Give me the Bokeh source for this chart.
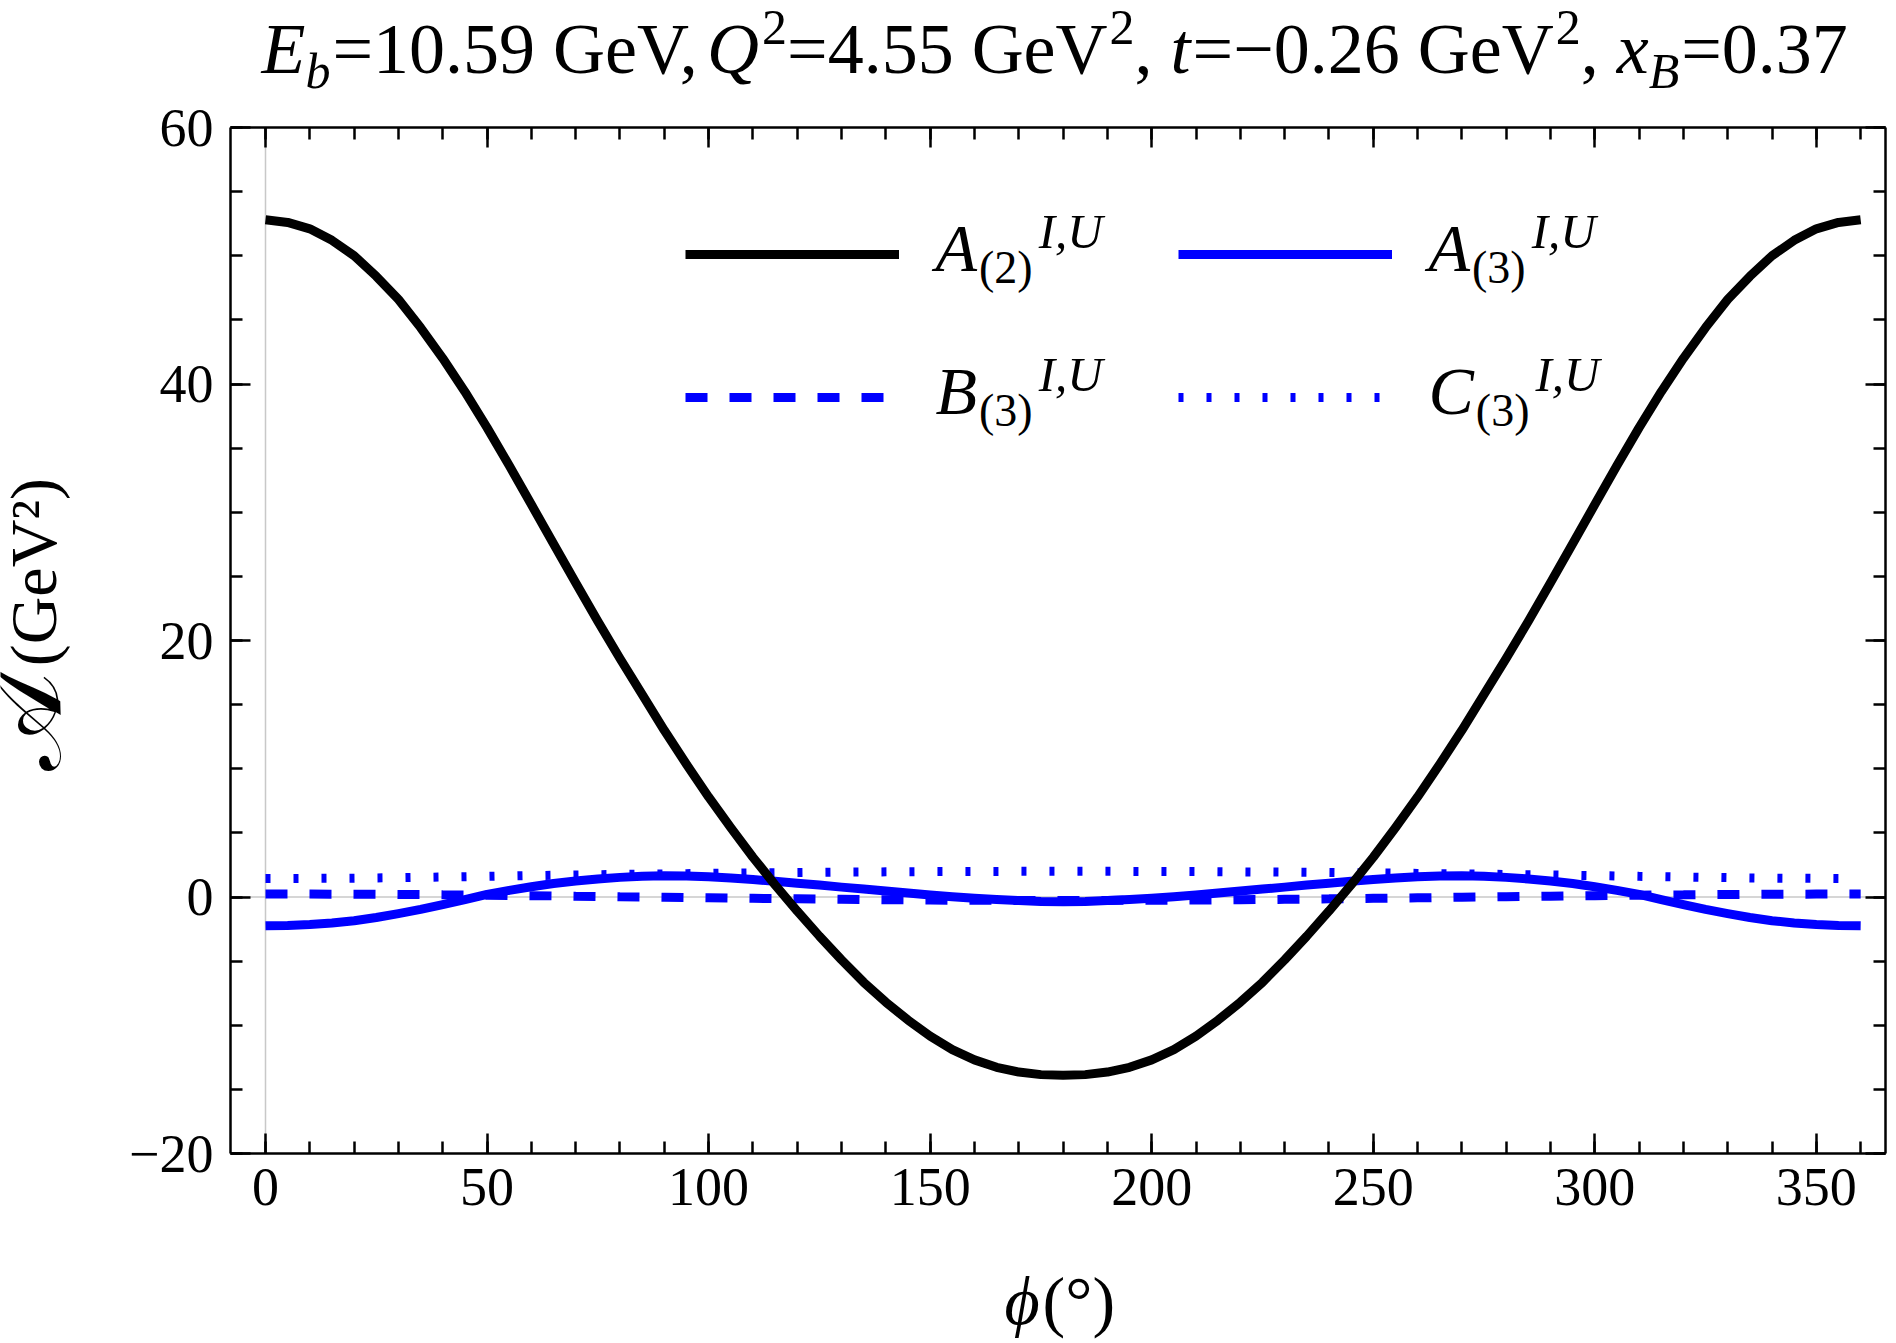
from bokeh.plotting import figure
from bokeh.layouts import column, row
from bokeh.models import (Range1d, LinearAxis, FixedTicker, Span, Label,
                          Legend, LegendItem)
from bokeh.embed import file_html
from bokeh.resources import INLINE
from bokeh.core.properties import value

# ---------------- data ----------------
phi = list(range(0, 361, 5))

A2 = [52.8, 52.6, 52.1, 51.2, 50.0, 48.4, 46.6, 44.4, 42.0, 39.4, 36.6, 33.65, 30.6, 27.55,
      24.5, 21.5, 18.6, 15.8, 13.0, 10.35, 7.8, 5.4, 3.1, 0.95, -1.1, -3.05, -4.9, -6.65, -8.2,
      -9.6, -10.85, -11.9, -12.7, -13.28, -13.65, -13.85, -13.9,
      -13.85, -13.65, -13.28, -12.7, -11.9, -10.85, -9.6, -8.2, -6.65, -4.9, -3.05, -1.1, 0.95,
      3.1, 5.4, 7.8, 10.35, 13.0, 15.8, 18.6, 21.5, 24.5, 27.55, 30.6, 33.65, 36.6, 39.4, 42.0,
      44.4, 46.6, 48.4, 50.0, 51.2, 52.1, 52.6, 52.8]

A3 = [-2.25, -2.22, -2.15, -2.02, -1.85, -1.6, -1.3, -0.97, -0.6, -0.2, 0.2, 0.52, 0.8, 1.05,
      1.25, 1.41, 1.53, 1.61, 1.65, 1.63, 1.57, 1.48, 1.36, 1.23, 1.08, 0.93, 0.77, 0.62, 0.46,
      0.31, 0.16, 0.02, -0.1, -0.2, -0.28, -0.355, -0.38,
      -0.355, -0.28, -0.2, -0.1, 0.02, 0.16, 0.31, 0.46, 0.62, 0.77, 0.93, 1.08, 1.23, 1.36,
      1.48, 1.57, 1.63, 1.65, 1.61, 1.53, 1.41, 1.25, 1.05, 0.8, 0.52, 0.2, -0.2, -0.6, -0.97,
      -1.3, -1.6, -1.85, -2.02, -2.15, -2.22, -2.25]

B3 = [0.23, 0.229, 0.226, 0.221, 0.215, 0.207, 0.197, 0.185, 0.17, 0.157, 0.14, 0.123, 0.105,
      0.086, 0.065, 0.045, 0.023, 0.002, -0.02, -0.042, -0.063, -0.085, -0.105, -0.126, -0.145,
      -0.163, -0.18, -0.197, -0.21, -0.225, -0.237, -0.247, -0.255, -0.261, -0.266, -0.269, -0.27,
      -0.269, -0.266, -0.261, -0.255, -0.247, -0.237, -0.225, -0.21, -0.197, -0.18, -0.163,
      -0.145, -0.126, -0.105, -0.085, -0.063, -0.042, -0.02, 0.002, 0.023, 0.045, 0.065, 0.086,
      0.105, 0.123, 0.14, 0.157, 0.17, 0.185, 0.197, 0.207, 0.215, 0.221, 0.226, 0.229, 0.23]

C3 = [1.44, 1.443, 1.45, 1.46, 1.47, 1.49, 1.51, 1.535, 1.56, 1.585, 1.61, 1.64, 1.67, 1.695,
      1.72, 1.74, 1.76, 1.78, 1.8, 1.82, 1.84, 1.86, 1.88, 1.895, 1.91, 1.925, 1.94, 1.95, 1.96,
      1.97, 1.98, 1.985, 1.99, 1.995, 2.0, 2.0, 2.0,
      2.0, 2.0, 1.995, 1.99, 1.985, 1.98, 1.97, 1.96, 1.95, 1.94, 1.925, 1.91, 1.895, 1.88,
      1.86, 1.84, 1.82, 1.8, 1.78, 1.76, 1.74, 1.72, 1.695, 1.67, 1.64, 1.61, 1.585, 1.56,
      1.535, 1.51, 1.49, 1.47, 1.46, 1.45, 1.443, 1.44]

x_major = [0, 50, 100, 150, 200, 250, 300, 350]
x_labels = ["0", "50", "100", "150", "200", "250", "300", "350"]
x_minor = list(range(0, 361, 10))
y_major = [-20, 0, 20, 40, 60]
y_labels = ["\u221220", "0", "20", "40", "60"]
y_minor = list(range(-20, 61, 5))

# ---------------- layout (page pixels) ----------------
TW, TH = 1888, 1343                 # whole drawing
FL, FR, FT, FB = 230, 1885, 127, 1153
X0_PAGE, PX_PER_DEG = 265.0, 4.431
TOP_H = 100                          # title strip
LEFT_W = 120                         # y-label strip
BOT_Y = 1240                         # start of x-label strip
MAIN_H = BOT_Y - TOP_H
MAIN_W = TW - LEFT_W
SERIF = "Liberation Serif"
BLUE = "#0000ff"
LW = 9
K_BASE = 0.37                        # baseline correction (fraction of font size)

x_start = (FL - X0_PAGE) / PX_PER_DEG
x_end = (FR - X0_PAGE) / PX_PER_DEG


def strip(w, h, y_top, x_left=0):
    f = figure(width=w, height=h, x_range=Range1d(x_left, x_left + w),
               y_range=Range1d(y_top + h, y_top), output_backend="svg",
               toolbar_location=None, x_axis_type=None, y_axis_type=None, min_border=0)
    f.outline_line_color = None
    f.background_fill_color = "white"
    f.border_fill_color = "white"
    return f


title_fig = strip(TW, TOP_H, 0)
ylab_fig = strip(LEFT_W, MAIN_H, TOP_H)
xlab_fig = strip(TW, TH - BOT_Y, BOT_Y)

p = figure(width=MAIN_W, height=MAIN_H, x_range=Range1d(x_start, x_end),
           y_range=Range1d(-20, 60), output_backend="svg", toolbar_location=None)
p.min_border_left = FL - LEFT_W
p.min_border_right = TW - FR
p.min_border_top = FT - TOP_H
p.min_border_bottom = BOT_Y - FB
p.outline_line_color = None
p.grid.visible = False
p.background_fill_color = "white"
p.border_fill_color = "white"

p.add_layout(LinearAxis(), "above")
p.add_layout(LinearAxis(), "right")


def style_axis(ax, ticks, minor, labels, standoff):
    ax.ticker = FixedTicker(ticks=ticks, minor_ticks=minor)
    ax.axis_line_width = 2.5
    ax.axis_line_color = "black"
    ax.major_tick_in = 20
    ax.major_tick_out = 0
    ax.minor_tick_in = 12
    ax.minor_tick_out = 0
    ax.major_tick_line_width = 2.5
    ax.minor_tick_line_width = 2.5
    ax.major_tick_line_color = "black"
    ax.minor_tick_line_color = "black"
    if labels is None:
        ax.major_label_text_font_size = "1px"
        ax.major_label_text_color = None
        ax.major_label_standoff = 0
    else:
        ax.major_label_overrides = {t: s for t, s in zip(ticks, labels)}
        ax.major_label_text_font = SERIF
        ax.major_label_text_font_size = "54px"
        ax.major_label_text_color = "black"
        ax.major_label_standoff = standoff


style_axis(p.below[0], x_major, x_minor, x_labels, 15)
style_axis(p.above[0], x_major, x_minor, None, 0)
style_axis(p.left[0], y_major, y_minor, y_labels, 17)
style_axis(p.right[0], y_major, y_minor, None, 0)

p.add_layout(Span(location=0, dimension="width", line_color="#c8c8c8", line_width=1.5, level="underlay"))
p.add_layout(Span(location=0, dimension="height", line_color="#c8c8c8", line_width=1.5, level="underlay"))

# ---------------- curves ----------------
r_c3 = p.line(phi, C3, line_color=BLUE, line_width=LW, line_dash="5 23")
r_b3 = p.line(phi, B3, line_color=BLUE, line_width=LW, line_dash="22 22")
r_a3 = p.line(phi, A3, line_color=BLUE, line_width=LW, line_join="round")
r_a2 = p.line(phi, A2, line_color="black", line_width=LW, line_join="round")

# ---------------- legend (two columns, labels drawn as rich text) ----------------
def make_legend(items, left_page):
    leg = Legend(items=[LegendItem(label=value(" "), renderers=[r]) for r in items],
                 location=(left_page - FL, 741), orientation="vertical",
                 glyph_width=214, glyph_height=30, label_height=30, label_width=0,
                 label_standoff=0, label_text_font_size="1px", label_text_color=None,
                 padding=0, margin=0, spacing=113, border_line_color=None,
                 background_fill_alpha=0)
    p.add_layout(leg)


make_legend([r_a2, r_b3], 685)
make_legend([r_a3, r_c3], 1178)

# ---------------- rich text ----------------
REG = {" ": 250, "(": 333, ")": 333, ",": 250, ".": 250, "=": 564, "G": 722, "V": 722,
       "e": 444, "\u00b0": 400, "\u2212": 564}
for d in "0123456789":
    REG[d] = 500
ITA = {"A": 611, "B": 611, "C": 667, "E": 611, "I": 333, "U": 722, "Q": 722, "t": 278,
       "x": 444, "b": 500, ",": 250, "\u03d5": 560}


def text_width(s, italic, size):
    table = ITA if italic else REG
    return sum(table.get(ch, 500) for ch in s) * size / 1000.0


def rich(fig, segs, place, units="data"):
    """segs: (text, italic, size, shift_up, gap_before)"""
    cur = 0.0
    for text, italic, size, up, gap in segs:
        cur += gap
        x, y = place(cur, up + K_BASE * size)
        fig.add_layout(Label(x=x, y=y, x_units=units, y_units=units, text=text,
                             text_font=SERIF,
                             text_font_style="italic" if italic else "normal",
                             text_font_size=f"{size}px", text_color="black",
                             text_align="left", text_baseline="alphabetic"))
        cur += text_width(text, italic, size)


# title (page coordinates)
T, S = 72, 50
tx0, ty0 = 261, 75
rich(title_fig, [
    ("E", True, T, 0, 0), ("b", True, S, -14, 0),
    ("=10.59 GeV,", False, T, 0, 2),
    ("Q", True, T, 0, 0), ("2", False, S, 30, 3),
    ("=4.55 GeV", False, T, 0, 0), ("2", False, S, 30, 2),
    (", ", False, T, 0, 0),
    ("t", True, T, 0, 0), ("=\u22120.26 GeV", False, T, 0, 2),
    ("2", False, S, 30, 2), (", ", False, T, 0, 0),
    ("x", True, T, 0, 0), ("B", True, S, -14, 0),
    ("=0.37", False, T, 0, 2),
], lambda c, u: (tx0 + c, ty0 - u))


def leg_label(x_page, y_page, letter, sub):
    rich(p, [
        (letter, True, 68, 0, 0),
        (sub, False, 46, -11, 2),
        ("I,U", True, 49, 24, 6),
    ], lambda c, u: (x_page - FL + c, FB - y_page + u), units="screen")


leg_label(935, 273, "A", "(2)")
leg_label(1428, 273, "A", "(3)")
leg_label(935, 416, "B", "(3)")
leg_label(1428, 416, "C", "(3)")

# x axis label
rich(xlab_fig, [("\u03d5", True, 68, 0, 0), ("(\u00b0)", False, 68, 0, 0)],
     lambda c, u: (1004 + c, 1326 - u))

# y axis label (rotated, reading upward); each piece centred on its own spot
ylab_fig.add_layout(Label(x=24, y=760, text="\U0001d49c", angle=90, angle_units="deg",
                          text_font=SERIF, text_font_size="104px", text_color="black",
                          text_align="center", text_baseline="middle"))
ylab_fig.add_layout(Label(x=33, y=594, text="(GeV\u00b2)", angle=90, angle_units="deg",
                          text_font=SERIF, text_font_size="66px", text_color="black",
                          text_align="center", text_baseline="middle"))

layout = column(title_fig, row(ylab_fig, p), xlab_fig)
open("out.html", "w").write(file_html(layout, INLINE))
